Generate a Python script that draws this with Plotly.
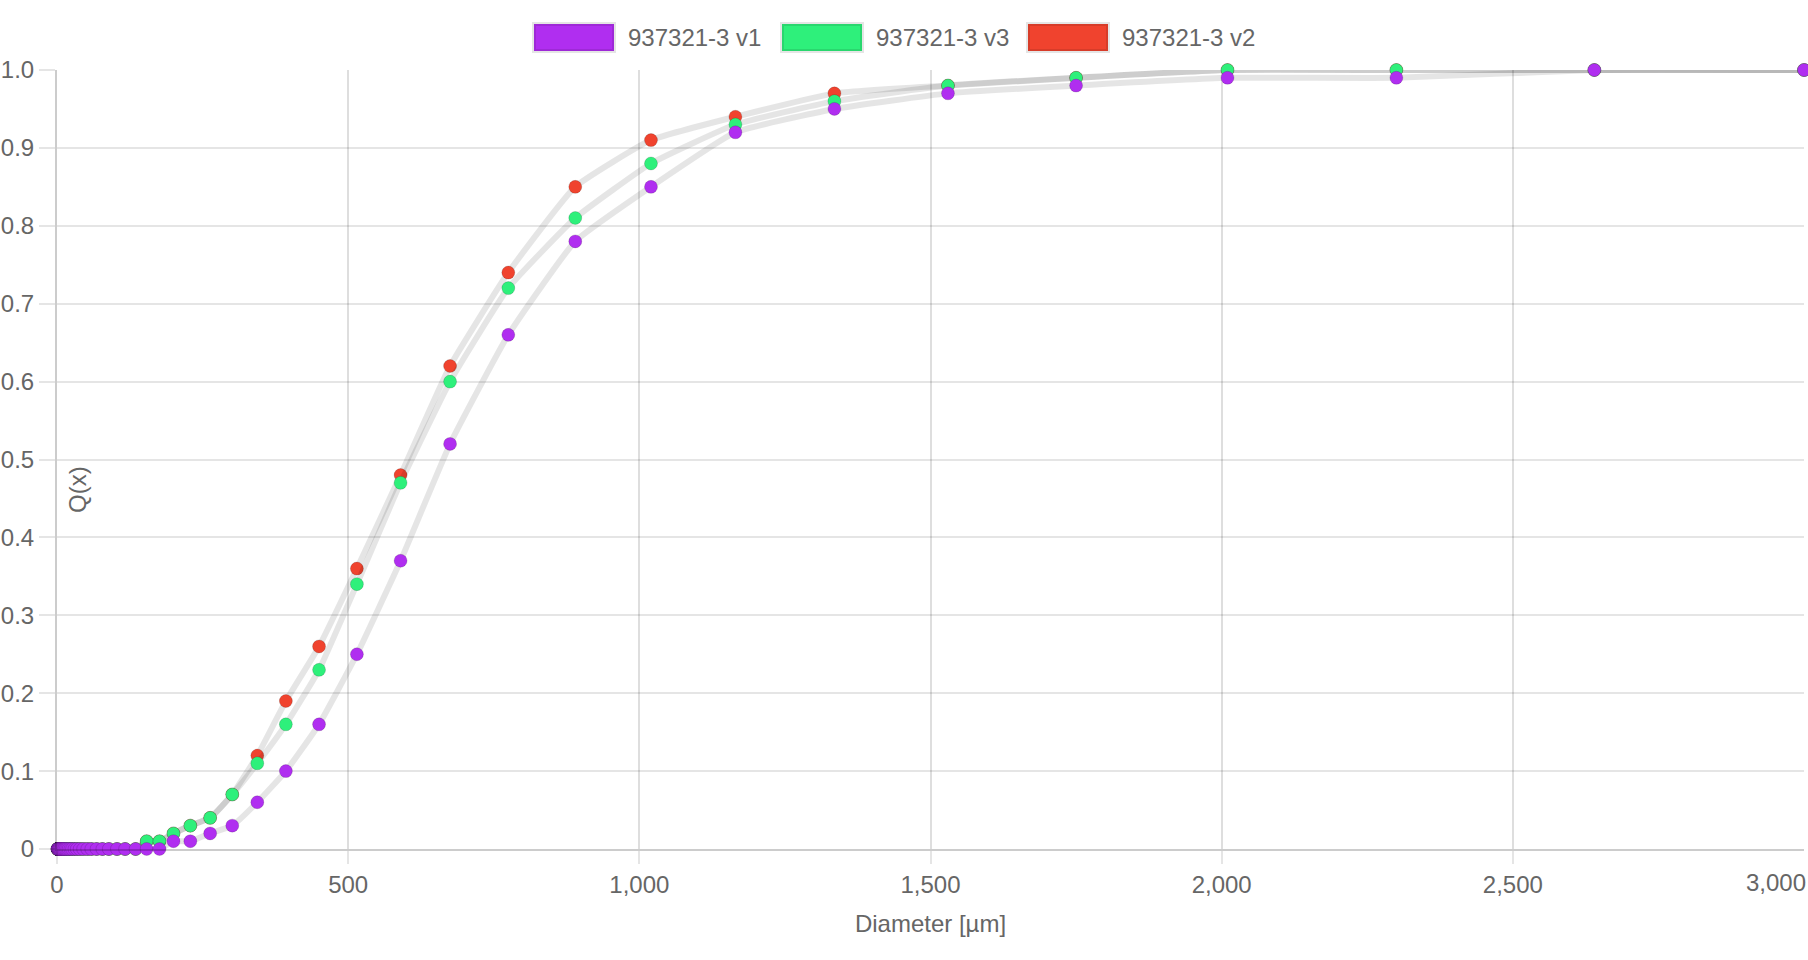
import plotly.graph_objects as go

# particle size classes [µm] shared by every run
diameter = [1.0, 1.1, 1.3, 1.5, 1.7, 1.9, 2.2, 2.5, 2.9, 3.3, 3.8, 4.4, 5.0, 5.8, 6.6,
            7.6, 8.7, 10, 11.5, 13, 15, 17.5, 20, 23, 26, 30, 34, 39, 45, 52, 59, 68,
            78, 89, 103, 117, 135, 154, 176, 200, 229, 263, 301, 344, 393, 450, 515,
            590, 675, 775, 890, 1020, 1165, 1335, 1530, 1750, 2010, 2300, 2640, 3000]

q_v1 = [0] * 39 + [0.01, 0.01, 0.02, 0.03, 0.06, 0.10, 0.16, 0.25, 0.37, 0.52, 0.66,
                   0.78, 0.85, 0.92, 0.95, 0.97, 0.98, 0.99, 0.99, 1.0, 1.0]
q_v3 = [0] * 37 + [0.01, 0.01, 0.02, 0.03, 0.04, 0.07, 0.11, 0.16, 0.23, 0.34, 0.47,
                   0.60, 0.72, 0.81, 0.88, 0.93, 0.96, 0.98, 0.99, 1.0, 1.0, 1.0, 1.0]
q_v2 = [0] * 37 + [0.01, 0.01, 0.02, 0.03, 0.04, 0.07, 0.12, 0.19, 0.26, 0.36, 0.48,
                   0.62, 0.74, 0.85, 0.91, 0.94, 0.97, 0.98, 0.99, 1.0, 1.0, 1.0, 1.0]

series_names = ["937321-3 v1", "937321-3 v3", "937321-3 v2"]
series_data = [q_v1, q_v3, q_v2]
series_colors = ["#B02EF0", "#2EF07B", "#F0432E"]

y_ticks = [0, 0.1, 0.2, 0.3, 0.4, 0.5, 0.6, 0.7, 0.8, 0.9, 1.0]
y_ticktext = ["0", "0.1", "0.2", "0.3", "0.4", "0.5", "0.6", "0.7", "0.8", "0.9", "1.0"]
x_ticks = [0, 500, 1000, 1500, 2000, 2500, 3000]
x_ticktext = ["0", "500", "1,000", "1,500", "2,000", "2,500", "3,000"]

W, H = 1808, 960
L, R, T, B = 57, 4, 70, 111
PW, PH = W - L - R, H - T - B
FONT = "Liberation Sans, Arial, sans-serif"
TXT = "#666666"
LINE = "rgba(0,0,0,0.1)"


def px(x):
    return (x - L) / PW


def py(y):
    return (H - B - y) / PH


fig = go.Figure()

# chart.js paints the first dataset on top, so add them in reverse
for name, q, col in reversed(list(zip(series_names, series_data, series_colors))):
    fig.add_trace(go.Scatter(
        x=diameter, y=q, name=name, mode="lines+markers",
        line=dict(color=LINE, width=6, shape="spline", smoothing=0.4),
        marker=dict(size=13, color=col, line=dict(color="rgba(0,0,0,0.15)", width=1)),
        cliponaxis=False, showlegend=False,
    ))

# legend drawn by hand to get the wide colour swatches
box_left = [534, 782, 1028]
for name, col, bx in zip(series_names, series_colors, box_left):
    fig.add_shape(type="rect", xref="paper", yref="paper",
                  x0=px(bx), x1=px(bx + 80), y0=py(51), y1=py(24),
                  fillcolor=col, line=dict(color="rgba(0,0,0,0.1)", width=4))
    fig.add_annotation(xref="paper", yref="paper", x=px(bx + 92), y=py(38),
                       xanchor="left", yanchor="middle", showarrow=False,
                       text=name, font=dict(size=24, color=TXT, family=FONT))

fig.add_annotation(xref="paper", yref="paper", x=px(77), y=py(490),
                   xanchor="center", yanchor="middle",
                   textangle=-90, showarrow=False, text="Q(x)",
                   font=dict(size=24, color=TXT, family=FONT))

# last x label is pulled inside the canvas, as chart.js does
fig.add_annotation(xref="x", yref="paper", x=x_ticks[-1], y=py(882),
                   xanchor="right", yanchor="middle", xshift=R, showarrow=False,
                   text=x_ticktext[-1], font=dict(size=24, color=TXT, family=FONT))

fig.update_layout(
    width=W, height=H,
    paper_bgcolor="white", plot_bgcolor="white",
    margin=dict(l=L, r=R, t=T, b=B, autoexpand=False),
    font=dict(family=FONT, size=24, color=TXT),
    xaxis=dict(
        range=[0, 3000], tickvals=x_ticks[:-1], ticktext=x_ticktext[:-1], automargin=False,
        showgrid=True, gridcolor="rgba(0,0,0,0.13)", gridwidth=2,
        zeroline=False, showline=True, linecolor="rgba(0,0,0,0.2)", linewidth=2,
        ticks="outside", ticklen=13, tickwidth=2, tickcolor="rgba(0,0,0,0.1)",
        title=dict(text="Diameter [µm]", standoff=18, font=dict(size=24, color=TXT)),
    ),
    yaxis=dict(
        range=[0, 1], tickvals=y_ticks, ticktext=y_ticktext, automargin=False,
        showgrid=True, gridcolor="rgba(0,0,0,0.1)", gridwidth=2,
        zeroline=False, showline=True, linecolor="rgba(0,0,0,0.2)", linewidth=2,
        ticks="outside", ticklen=16, tickwidth=2, tickcolor="rgba(0,0,0,0.1)",
    ),
)

# the page's default body margin would push the chart 8px off the window
fig.write_html("out.html", config={"displayModeBar": False},
               post_script="document.body.style.margin = '0';")
